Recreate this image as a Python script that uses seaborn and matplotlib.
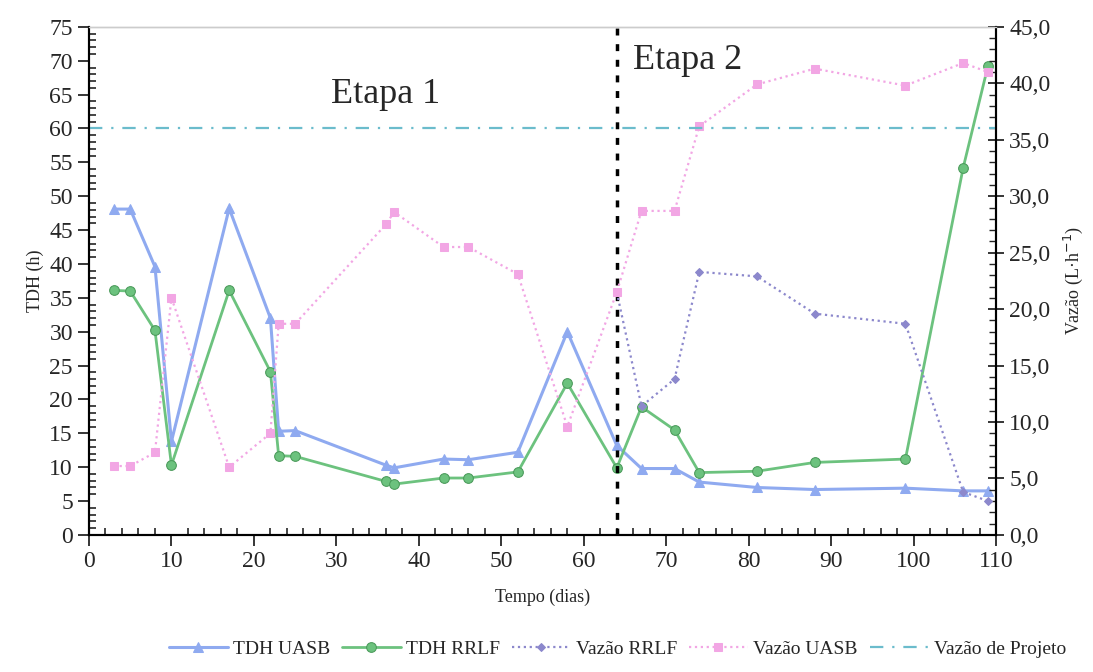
import numpy as np
import pandas as pd
import seaborn as sns
import matplotlib.pyplot as plt
from matplotlib.ticker import MultipleLocator, FuncFormatter

# Data
dias_uasb = [3, 5, 8, 10, 17, 22, 23, 25, 36, 37, 43, 46, 52, 58, 64, 67, 71, 74, 81, 88, 99, 106, 109]
tdh_uasb = [48.1, 48.1, 39.6, 13.8, 48.2, 32.0, 15.3, 15.4, 10.3, 9.9, 11.2, 11.1, 12.2, 30.0, 13.2,
            9.8, 9.8, 7.8, 7.0, 6.7, 6.9, 6.5, 6.5]

dias_rrlf = [3, 5, 8, 10, 17, 22, 23, 25, 36, 37, 43, 46, 52, 58, 64, 67, 71, 74, 81, 88, 99, 106, 109]
tdh_rrlf = [36.1, 36.0, 30.2, 10.3, 36.1, 24.1, 11.7, 11.6, 7.9, 7.5, 8.4, 8.4, 9.3, 22.4, 9.9,
            18.9, 15.5, 9.2, 9.4, 10.7, 11.2, 54.2, 69.2]

dias_vaz_rrlf = [64, 67, 71, 74, 81, 88, 99, 106, 109]
vazao_rrlf = [21.5, 11.4, 13.8, 23.3, 22.9, 19.6, 18.7, 3.8, 3.0]

dias_vaz_uasb = [3, 5, 8, 10, 17, 22, 23, 25, 36, 37, 43, 46, 52, 58, 64, 67, 71, 74, 81, 88, 99, 106, 109]
vazao_uasb = [6.1, 6.1, 7.3, 21.0, 6.0, 9.0, 18.7, 18.7, 27.5, 28.6, 25.5, 25.5, 23.1, 9.6, 21.5,
              28.7, 28.7, 36.2, 39.9, 41.3, 39.8, 41.8, 41.0]

dias_projeto = [0, 110]
vazao_projeto = [36.0, 36.0]

sns.set_style("white")
plt.rcParams['font.family'] = ['Liberation Serif', 'DejaVu Serif']

fig = plt.figure(figsize=(10.93, 6.72), dpi=100)
ax = fig.add_axes([0.0814, 0.204, 0.83, 0.756])
ax2 = ax.twinx()

blue = '#8faaf0'
green = '#6cc27e'
pink = '#f2a6e4'
purple = '#8c88cc'
cyan = '#6bbccc'

sns.lineplot(x=dias_uasb, y=tdh_uasb, ax=ax, color=blue, lw=2.2, marker='^', markersize=7,
             markeredgecolor=blue, label='TDH UASB', legend=False)
sns.lineplot(x=dias_rrlf, y=tdh_rrlf, ax=ax, color=green, lw=2.0, marker='o', markersize=7,
             markeredgecolor='#4a9a5a', label='TDH RRLF', legend=False)
sns.lineplot(x=dias_vaz_rrlf, y=vazao_rrlf, ax=ax2, color=purple, lw=1.6, ls=':', marker='D',
             markersize=4.5, markeredgecolor=purple, label='Vazão RRLF', legend=False)
sns.lineplot(x=dias_vaz_uasb, y=vazao_uasb, ax=ax2, color=pink, lw=1.6, ls=':', marker='s',
             markersize=5.5, markeredgecolor=pink, label='Vazão UASB', legend=False)
sns.lineplot(x=dias_projeto, y=vazao_projeto, ax=ax2, color=cyan, lw=1.6, ls=(0, (6, 4, 1, 4)),
             label='Vazão de Projeto', legend=False)

ax.axvline(64, color='black', ls=(0, (2, 2.5)), lw=2.5, zorder=5)

ax.set_xlim(0, 110)
ax.set_ylim(0, 75)
ax2.set_ylim(0, 45)

ax.xaxis.set_major_locator(MultipleLocator(10))
ax.xaxis.set_minor_locator(MultipleLocator(2))
ax.yaxis.set_major_locator(MultipleLocator(5))
ax.yaxis.set_minor_locator(MultipleLocator(1))
ax2.yaxis.set_major_locator(MultipleLocator(5))
ax2.yaxis.set_minor_locator(MultipleLocator(1))
ax2.yaxis.set_major_formatter(FuncFormatter(lambda v, p: f'{v:.1f}'.replace('.', ',')))

ax.tick_params(axis='x', which='major', direction='out', length=8, width=1.3, labelsize=17, bottom=True)
ax.tick_params(axis='x', which='minor', direction='in', length=5, width=1.2, bottom=True)
ax.tick_params(axis='y', which='major', direction='out', length=8, width=1.3, labelsize=17, left=True)
ax.tick_params(axis='y', which='minor', direction='in', length=5, width=1.2, left=True)
ax2.tick_params(axis='y', which='major', direction='inout', length=12, width=1.3, labelsize=17, right=True)
ax2.tick_params(axis='y', which='minor', direction='in', length=5, width=1.0, right=True)

for a in (ax, ax2):
    for s in ('left', 'bottom', 'right'):
        a.spines[s].set_color('black')
        a.spines[s].set_linewidth(1.5)
    a.spines['top'].set_color('#cccccc')
    a.spines['top'].set_linewidth(1.0)

ax.set_xlabel('Tempo (dias)', fontsize=13, labelpad=12)
ax.set_ylabel('TDH (h)', fontsize=13, labelpad=4)
ax2.set_ylabel('Vazão (L·h$^{-1}$)', fontsize=13, labelpad=8)

ax.text(36.0, 65, 'Etapa 1', fontsize=26, ha='center', va='center')
ax.text(66.0, 70.0, 'Etapa 2', fontsize=26, ha='left', va='center')

h1, l1 = ax.get_legend_handles_labels()
h2, l2 = ax2.get_legend_handles_labels()
fig.legend(h1 + h2, l1 + l2, loc='lower center', bbox_to_anchor=(0.565, -0.005), ncol=5,
           frameon=False, fontsize=14, handlelength=3.0, columnspacing=0.6, handletextpad=0.3)

fig.savefig('out.png', dpi=100)
